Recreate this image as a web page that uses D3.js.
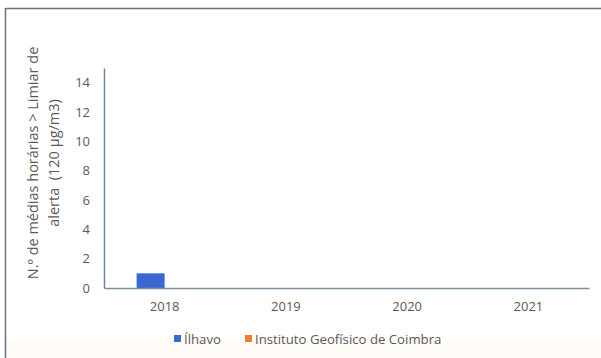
<!DOCTYPE html>
<html>
<head>
<meta charset="utf-8">
<script src="https://cdn.jsdelivr.net/npm/d3@7"></script>
<style>
  html, body { margin: 0; padding: 0; background: #ffffff; }
  svg { display: block; }
  text { font-family: "Open Sans", "Liberation Sans", sans-serif; fill: #595959; }
</style>
</head>
<body>
<svg id="chart" width="601" height="358"></svg>
<script>
// Hourly averages above the alert threshold, per station and year
const years = ["2018", "2019", "2020", "2021"];
const seriesNames = ["Ílhavo", "Instituto Geofísico de Coimbra"];
const ilhavo = [1, 0, 0, 0];
const coimbra = [0, 0, 0, 0];
const yTicks = [0, 2, 4, 6, 8, 10, 12, 14];
const colors = ["#3a69d2", "#ed7d31"];
const titleLines = ["N.º de médias horárias > Limiar de", "alerta  (120 µg/m3)"];

const values = [ilhavo, coimbra];
const svg = d3.select("#chart");
const W = 601, H = 358;

// frame
svg.append("rect").attr("x", 0).attr("y", 0).attr("width", W).attr("height", H).attr("fill", "#ffffff");
svg.append("rect").attr("x", 6).attr("y", 338).attr("width", W - 6).attr("height", 20).attr("fill", "#fffcf8");
svg.append("line").attr("x1", 5.5).attr("x2", W).attr("y1", 8.5).attr("y2", 8.5)
  .attr("stroke", "#6b7284").attr("stroke-width", 1.5);
svg.append("line").attr("x1", 5.5).attr("x2", 5.5).attr("y1", 8).attr("y2", 358)
  .attr("stroke", "#6b7284").attr("stroke-width", 1.5);

const plotLeft = 104, plotRight = 589, plotTop = 68, plotBottom = 288;

const x = d3.scaleBand().domain(years).range([plotLeft, plotRight]).paddingInner(0).paddingOuter(0);
const y = d3.scaleLinear().domain([0, 15]).range([plotBottom, plotTop]);

// bars
const innerPad = (x.bandwidth() - 56) / 2;
const subX = d3.scaleBand().domain(seriesNames).range([innerPad, x.bandwidth() - innerPad]);
seriesNames.forEach((s, si) => {
  svg.append("g").selectAll("rect").data(years).join("rect")
    .attr("x", d => x(d) + subX(s))
    .attr("width", subX.bandwidth())
    .attr("y", (d, i) => y(values[si][i]))
    .attr("height", (d, i) => y(0) - y(values[si][i]))
    .attr("fill", colors[si]);
});

// y axis
const yAxis = svg.append("g").attr("transform", `translate(${plotLeft},0)`)
  .call(d3.axisLeft(y).tickValues(yTicks).tickSize(0).tickPadding(14));
yAxis.select(".domain").attr("stroke", "#6f8599").attr("stroke-width", 1.5);
yAxis.selectAll("text").style("font-size", "13px").attr("fill", "#595959");

// x axis
const xAxis = svg.append("g").attr("transform", `translate(0,${plotBottom})`)
  .call(d3.axisBottom(x).tickSize(0).tickPadding(14));
xAxis.select(".domain").attr("stroke", "#7a8e9c").attr("stroke-width", 1.5);
xAxis.selectAll("text").style("font-size", "13px").attr("fill", "#595959");

// y axis title (two lines, rotated)
const title = svg.append("text")
  .attr("transform", "rotate(-90)")
  .attr("text-anchor", "middle")
  .style("font-size", "14.5px")
  .style("white-space", "pre");
title.selectAll("tspan").data(titleLines).join("tspan")
  .attr("x", -163)
  .attr("y", (d, i) => 38 + i * 21)
  .text(d => d);

// legend
const legend = svg.append("g").attr("transform", "translate(174,339)");
const legendX = [0, 71];
seriesNames.forEach((s, i) => {
  const g = legend.append("g").attr("transform", `translate(${legendX[i]},0)`);
  g.append("rect").attr("x", 0).attr("y", -4).attr("width", 7).attr("height", 7).attr("fill", colors[i]);
  g.append("text").attr("x", 10).attr("y", 0).attr("dy", "0.35em")
    .style("font-size", "13.2px").text(s);
});
</script>
</body>
</html>
